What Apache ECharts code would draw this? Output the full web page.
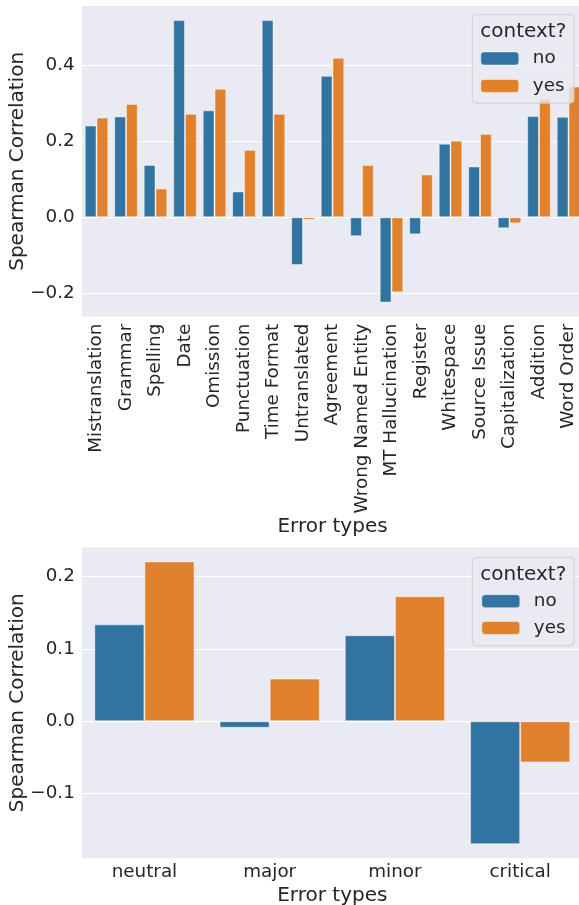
<!DOCTYPE html>
<html>
<head>
<meta charset="utf-8">
<script src="https://cdn.jsdelivr.net/npm/echarts@6/dist/echarts.min.js"></script>
<style>
html,body{margin:0;padding:0;background:#fff;}
#chart{width:579px;height:905px;}
</style>
</head>
<body>
<div id="chart"></div>
<script>
const categoriesTop = ['Mistranslation','Grammar','Spelling','Date','Omission','Punctuation','Time Format','Untranslated','Agreement','Wrong Named Entity','MT Hallucination','Register','Whitespace','Source Issue','Capitalization','Addition','Word Order'];
const noTop  = [0.242, 0.266, 0.138, 0.520, 0.282, 0.068, 0.520, -0.126, 0.373, -0.050, -0.225, -0.045, 0.194, 0.134, -0.029, 0.267, 0.265];
const yesTop = [0.263, 0.299, 0.076, 0.273, 0.339, 0.178, 0.273, -0.007, 0.421, 0.138, -0.198, 0.113, 0.202, 0.220, -0.016, 0.313, 0.345];
const ticksTop = [-0.2, 0, 0.2, 0.4];

const categoriesBottom = ['neutral','major','minor','critical'];
const noBottom  = [0.134, -0.009, 0.119, -0.170];
const yesBottom = [0.221, 0.059, 0.173, -0.057];
const ticksBottom = [-0.1, 0, 0.1, 0.2];

const seriesNames = ['no','yes'];
const legendTitle = 'context?';
const xName = 'Error types';
const yName = 'Spearman Correlation';

const BLUE = '#3274a1', ORANGE = '#e1812c', TXT = '#262626', BG = '#eaeaf2';
const FONT = 'DejaVu Sans';
const TICK_FS = 18.33, LABEL_FS = 20;

function range(a, b){
  const mn = Math.min(...a, ...b), mx = Math.max(...a, ...b);
  const pad = (mx - mn) * 0.05;
  return [mn - pad, mx + pad];
}
const rTop = range(noTop, yesTop);
const rBot = range(noBottom, yesBottom);
const fmt = v => (v < 0 ? '\u2212' : '') + Math.abs(v).toFixed(1);

function yAxis(idx, r, ticks){
  return {
    type: 'value', gridIndex: idx, min: r[0], max: r[1],
    name: yName, nameLocation: 'middle', nameGap: 54, nameMoveOverlap: false,
    nameTextStyle: {fontSize: LABEL_FS, color: TXT, fontFamily: FONT},
    axisLine: {show: false},
    axisTick: {show: false, customValues: ticks},
    axisLabel: {customValues: ticks, formatter: fmt, fontSize: TICK_FS, color: TXT, fontFamily: FONT, margin: 7},
    splitLine: {show: true, lineStyle: {color: '#ffffff', width: 1}}
  };
}
function xAxis(idx, cats, rotate, margin, nameGap){
  return {
    type: 'category', gridIndex: idx, data: cats,
    name: xName, nameLocation: 'middle', nameGap: nameGap, nameMoveOverlap: false,
    nameTextStyle: {fontSize: LABEL_FS, color: TXT, fontFamily: FONT},
    axisLine: {show: false}, axisTick: {show: false},
    axisLabel: {interval: 0, rotate: rotate, fontSize: TICK_FS, color: TXT, fontFamily: FONT, margin: margin},
    splitLine: {show: false}
  };
}
function bar(name, data, idx, color){
  return {
    type: 'bar', name: name, data: data, xAxisIndex: idx, yAxisIndex: idx,
    barGap: '0%', barCategoryGap: '20%',
    itemStyle: {color: color, borderColor: 'rgba(255,255,255,0.45)', borderWidth: 1},
    emphasis: {disabled: true}
  };
}
function legendBox(x, y){
  return [
    {type: 'rect', z: 50, shape: {x: x, y: y, width: 101.7, height: 88.5, r: 4},
     style: {fill: 'rgba(234,234,242,0.8)', stroke: 'rgba(204,204,210,0.9)', lineWidth: 1}},
    {type: 'text', z: 51, x: x + 51, y: y + 17,
     style: {text: legendTitle, fontSize: LABEL_FS, fill: TXT, fontFamily: FONT, align: 'center', verticalAlign: 'middle'}}
  ];
}
function legendItem(name, x, y){
  return {
    data: [name], orient: 'vertical', left: x, top: y - 2.8, padding: 0,
    itemWidth: 38, itemHeight: 13, z: 60,
    selectedMode: false,
    itemStyle: {borderColor: 'rgba(255,255,255,0.45)', borderWidth: 1},
    textStyle: {fontSize: TICK_FS, color: TXT, fontFamily: FONT, padding: [0,0,0,9]}
  };
}

const chart = echarts.init(document.getElementById('chart'), null, {renderer: 'canvas'});
chart.setOption({
  animation: false,
  backgroundColor: '#ffffff',
  textStyle: {fontFamily: FONT},
  grid: [
    {left: 81.75, top: 6, width: 501.5, height: 310.7, show: true, backgroundColor: BG, borderWidth: 0, containLabel: false, outerBoundsMode: 'none'},
    {left: 81.8, top: 547.3, width: 501, height: 311, show: true, backgroundColor: BG, borderWidth: 0, containLabel: false, outerBoundsMode: 'none'}
  ],
  xAxis: [xAxis(0, categoriesTop, 90, 7, 200), xAxis(1, categoriesBottom, 0, 5, 27)],
  yAxis: [yAxis(0, rTop, ticksTop), yAxis(1, rBot, ticksBottom)],
  legend: [
    legendItem(seriesNames[0], 480.3, 52.3), legendItem(seriesNames[1], 480.3, 79.7),
    legendItem(seriesNames[0], 481.3, 595), legendItem(seriesNames[1], 481.3, 621.7)
  ],
  graphic: [...legendBox(472.3, 14.7), ...legendBox(472.3, 557.3)],
  series: [
    bar(seriesNames[0], noTop, 0, BLUE), bar(seriesNames[1], yesTop, 0, ORANGE),
    bar(seriesNames[0], noBottom, 1, BLUE), bar(seriesNames[1], yesBottom, 1, ORANGE)
  ]
});
</script>
</body>
</html>
